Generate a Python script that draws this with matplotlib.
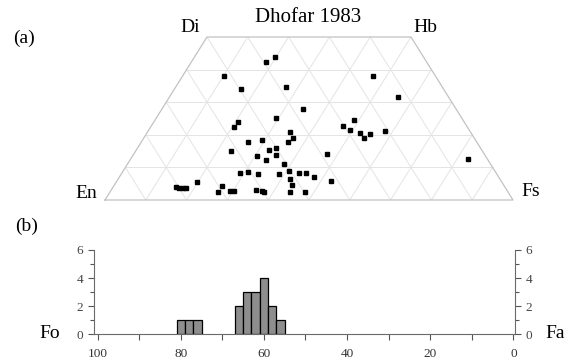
import matplotlib
matplotlib.use("Agg")
import matplotlib.pyplot as plt
import numpy as np

plt.rcParams['font.family'] = ['Liberation Serif', 'DejaVu Serif']

# pyroxene compositions (mol %): Wo and Fs, En is the rest
wo = [43.9, 42.3, 38.0, 37.9, 34.2, 34.8, 31.6, 28.0, 25.1, 24.0,
      22.3, 24.4, 22.7, 21.5, 21.0, 20.5, 20.3, 19.1, 21.3, 19.0,
      17.7, 17.7, 18.3, 14.9, 15.3, 15.9, 13.8, 13.6, 12.3, 14.0,
      12.7, 11.1, 8.4, 8.7, 7.9, 7.9, 8.8, 8.3, 8.4, 7.2,
      6.4, 5.8, 4.5, 5.6, 3.9, 3.8, 3.6, 3.6, 4.4, 2.6,
      2.8, 2.9, 3.1, 2.8, 2.6, 2.5, 2.5]
fs = [19.7, 18.2, 10.1, 46.7, 16.2, 26.9, 56.0, 34.6, 29.4, 20.6,
      20.4, 48.9, 47.0, 49.4, 34.8, 52.2, 54.8, 54.0, 58.0, 36.5,
      36.1, 26.2, 29.3, 23.5, 32.5, 33.9, 35.0, 30.4, 33.3, 47.3,
      82.7, 38.2, 29.0, 30.8, 33.5, 38.8, 40.7, 43.5, 45.1, 47.7,
      42.1, 52.4, 43.7, 19.8, 15.4, 16.3, 17.4, 18.0, 26.5, 26.4,
      29.3, 30.2, 35.5, 37.0, 37.7, 44.2, 47.7]

# olivine Fo histogram
fo_bins = [80, 78, 76, 66, 64, 62, 60, 58, 56]
fo_counts = [1, 1, 1, 2, 3, 3, 4, 2, 1]

W, H = 569, 362
fig = plt.figure(figsize=(W / 100, H / 100), dpi=100)


def fx(px):
    return px / W


def fy(py):
    return 1 - py / H


# ---- (a) quadrilateral ----
ax = fig.add_axes([fx(105), fy(200), (513 - 105) / W, (200 - 37) / H])
ax.set_xlim(0, 1)
ax.set_ylim(0, 0.5)
ax.axis('off')

grid_c = '#e4e4e4'
for k in range(1, 10):
    f = k / 10
    top = min(0.5, 1 - f)
    w = np.array([0, top])
    ax.plot(f + w / 2, w, color=grid_c, lw=0.7, zorder=1)
    ax.plot(1 - f - w / 2, w, color=grid_c, lw=0.7, zorder=1)
for k in range(1, 5):
    w = k / 10
    ax.plot([w / 2, 1 - w / 2], [w, w], color=grid_c, lw=0.7, zorder=1)
ax.plot([0, 1, 0.75, 0.25, 0], [0, 0, 0.5, 0.5, 0], color='#c2c2c2', lw=0.9,
        zorder=2, clip_on=False)

wo_a = np.array(wo) / 100
fs_a = np.array(fs) / 100
ax.plot(fs_a + wo_a / 2, wo_a, 's', color='black', ms=3.4, zorder=3,
        clip_on=False)

fig.text(fx(308), fy(17), 'Dhofar 1983', ha='center', va='center', fontsize=15)
fig.text(fx(190), fy(28), 'Di', ha='center', va='center', fontsize=14)
fig.text(fx(425), fy(27), 'Hb', ha='center', va='center', fontsize=14)
fig.text(fx(86), fy(194), 'En', ha='center', va='center', fontsize=14)
fig.text(fx(531), fy(192), 'Fs', ha='center', va='center', fontsize=14)
fig.text(fx(24), fy(38), '(a)', ha='center', va='center', fontsize=14)
fig.text(fx(27), fy(226), '(b)', ha='center', va='center', fontsize=14)

# ---- (b) histogram ----
bx = fig.add_axes([fx(93.5), fy(334.3), (515 - 93.5) / W, (334.3 - 250) / H])
bx.bar(fo_bins, fo_counts, width=2, color='#8e8e8e', edgecolor='black', lw=0.9)
bx.set_xlim(101, -0.4)
bx.set_ylim(0, 6)
bx.spines['top'].set_visible(False)
for s in ['left', 'right', 'bottom']:
    bx.spines[s].set_color('#6a6a6a')
    bx.spines[s].set_linewidth(0.8)
bx.set_xticks(np.arange(0, 101, 20))
bx.set_xticks(np.arange(0, 101, 10), minor=True)
bx.set_yticks([0, 2, 4, 6])
bx.set_yticks([1, 3, 5], minor=True)
bx.tick_params(axis='both', which='both', direction='out', color='#555555',
               labelsize=9.5, width=0.8)
bx.tick_params(axis='x', which='both', length=4, pad=6, labelcolor='#333333')
bx.tick_params(axis='y', which='major', length=4, labelcolor='#444444')
bx.tick_params(axis='y', which='minor', length=3)
bx.tick_params(axis='y', which='both', right=True, labelright=True)

fig.text(fx(50), fy(333), 'Fo', ha='center', va='center', fontsize=14)
fig.text(fx(555), fy(333), 'Fa', ha='center', va='center', fontsize=14)

fig.savefig('out.png', dpi=100)
